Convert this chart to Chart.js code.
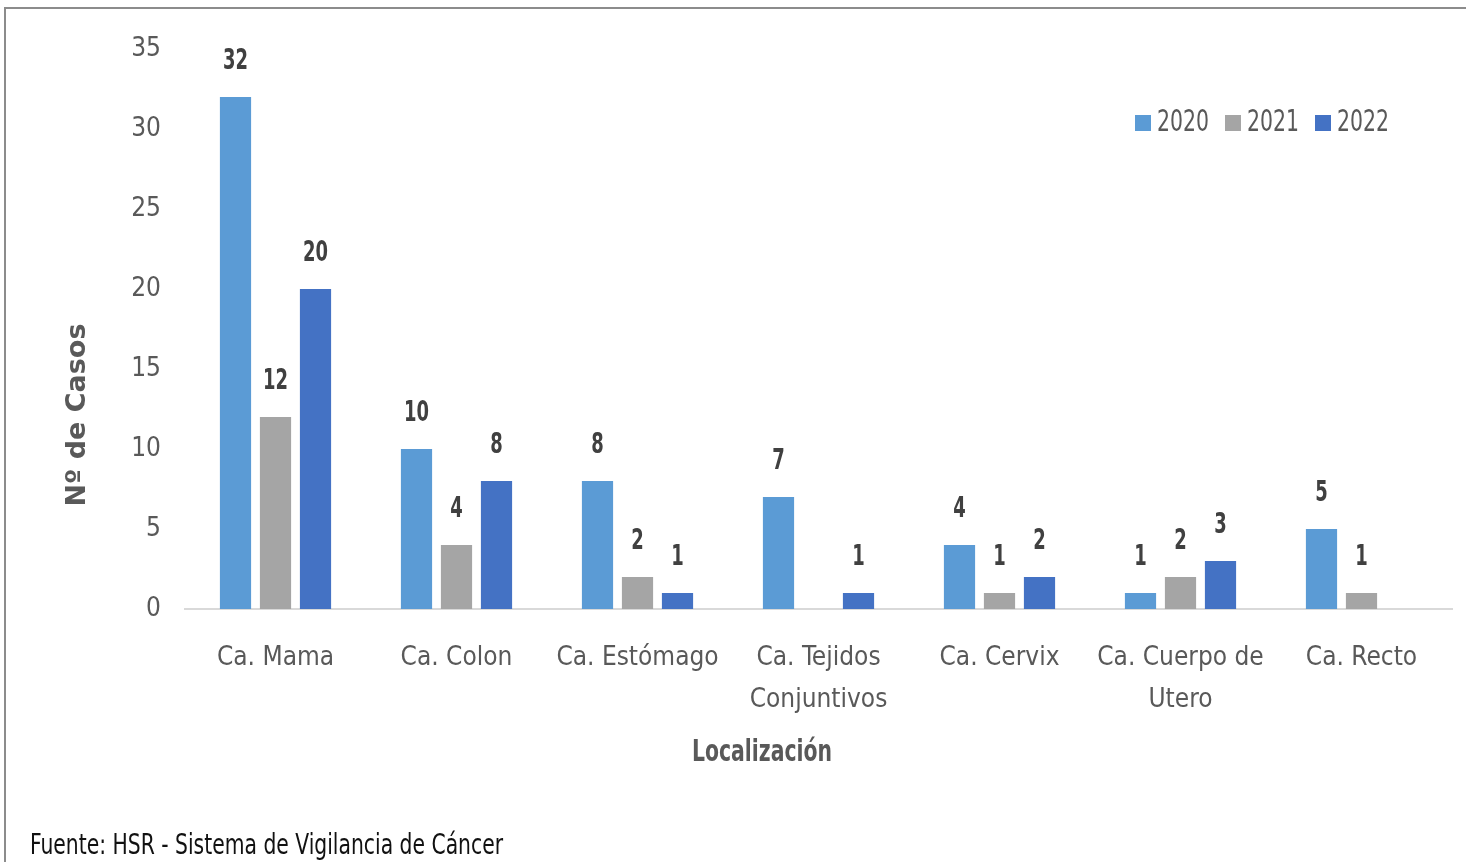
<!DOCTYPE html>
<html>
<head>
<meta charset="utf-8">
<script src="https://cdn.jsdelivr.net/npm/chart.js@4/dist/chart.umd.min.js"></script>
<style>
  html, body { margin: 0; padding: 0; background: #fff; }
  #wrap { width: 1466px; height: 862px; position: relative; }
</style>
</head>
<body>
<div id="wrap"><canvas id="myChart" width="1466" height="862"></canvas></div>
<script>
// Chart data
const categories = [
    'Ca. Mama',
    'Ca. Colon',
    'Ca. Estómago',
    ['Ca. Tejidos', 'Conjuntivos'],
    'Ca. Cervix',
    ['Ca. Cuerpo de', 'Utero'],
    'Ca. Recto'
];
const years = ['2020', '2021', '2022'];
const casos2020 = [32, 10, 8, 7, 4, 1, 5];
const casos2021 = [12, 4, 2, null, 1, 2, 1];
const casos2022 = [20, 8, 1, 1, 2, 3, null];
const yTicks = [0, 5, 10, 15, 20, 25, 30, 35];

const colors = ['#5B9BD5', '#A5A5A5', '#4472C4'];
const fuente = 'Fuente: HSR - Sistema de Vigilancia de Cáncer';

// use a narrow face when one is installed
function hasFont(name) {
    const c = document.createElement('canvas').getContext('2d');
    c.font = '40px monospace';
    const a = c.measureText('abcdefghijklmMW').width;
    c.font = `40px '${name}', monospace`;
    return c.measureText('abcdefghijklmMW').width !== a;
}
const hasNarrow = hasFont('Liberation Sans Narrow');
const narrow = hasNarrow
    ? "'Liberation Sans Narrow', sans-serif"
    : "'DejaVu Sans Condensed', sans-serif";
const tickSize = hasNarrow ? 29 : 26;

// Value labels, axis titles, legend, frame and source note
const extras = {
    id: 'extras',
    afterDatasetsDraw(chart) {
        const ctx = chart.ctx;
        const area = chart.chartArea;
        ctx.save();

        // bar labels
        ctx.font = 'bold 29px ' + narrow;
        ctx.fillStyle = '#404040';
        ctx.textAlign = 'center';
        ctx.textBaseline = 'middle';
        chart.data.datasets.forEach((ds, i) => {
            const meta = chart.getDatasetMeta(i);
            meta.data.forEach((bar, j) => {
                if (ds.data[j] == null) return;
                const s = String(ds.data[j]);
                ctx.fillText(s, bar.x, bar.y - 36, 12.5 * s.length);
            });
        });

        // y axis title
        ctx.save();
        ctx.translate(78, 415);
        ctx.rotate(-Math.PI / 2);
        ctx.font = "bold 27px 'DejaVu Sans', sans-serif";
        ctx.fillStyle = '#595959';
        ctx.fillText('Nº de Casos', 0, 0, 186);
        ctx.restore();

        // x axis title
        ctx.font = 'bold 31px ' + narrow;
        ctx.fillStyle = '#595959';
        ctx.fillText('Localización', 762, 753, 140);

        // legend
        ctx.font = '30px ' + narrow;
        ctx.textAlign = 'left';
        let x = area.right - 317;
        const y = 123;
        years.forEach((yr, i) => {
            ctx.fillStyle = colors[i];
            ctx.fillRect(x, y - 8, 16, 16);
            ctx.fillStyle = '#595959';
            ctx.fillText(yr, x + 22, y, 52);
            x += 90;
        });

        // frame (top and left edges)
        ctx.strokeStyle = '#8c8c8c';
        ctx.lineWidth = 2;
        ctx.beginPath();
        ctx.moveTo(5, 862);
        ctx.lineTo(5, 8);
        ctx.lineTo(1466, 8);
        ctx.stroke();

        // source note
        ctx.font = '28px ' + narrow;
        ctx.fillStyle = '#111';
        ctx.fillText(fuente, 30, 847, 473);

        ctx.restore();
    }
};

const ctx = document.getElementById('myChart').getContext('2d');
const chart = new Chart(ctx, {
    type: 'bar',
    data: {
        labels: categories,
        datasets: [
            { label: years[0], data: casos2020, backgroundColor: colors[0] },
            { label: years[1], data: casos2021, backgroundColor: colors[1] },
            { label: years[2], data: casos2022, backgroundColor: colors[2] }
        ]
    },
    options: {
        responsive: false,
        animation: false,
        layout: { padding: { left: 64, right: 14, top: 49, bottom: 92 } },
        datasets: {
            bar: { categoryPercentage: 0.663, barPercentage: 0.78 }
        },
        plugins: {
            legend: { display: false },
            tooltip: { enabled: false }
        },
        scales: {
            x: {
                grid: { display: false, drawTicks: false },
                border: { color: '#d9d9d9', width: 2 },
                ticks: {
                    color: '#595959',
                    font: { family: narrow, size: tickSize, lineHeight: 42 / tickSize },
                    padding: 28,
                    maxRotation: 0,
                    autoSkip: false
                },
                afterFit(scale) { scale.height = 161; }
            },
            y: {
                min: 0,
                max: 35,
                afterBuildTicks(scale) { scale.ticks = yTicks.map(v => ({ value: v })); },
                grid: { display: false, drawTicks: false },
                border: { display: false },
                ticks: {
                    color: '#595959',
                    font: { family: narrow, size: tickSize },
                    padding: 24
                },
                afterFit(scale) { scale.width = 121; }
            }
        }
    },
    plugins: [extras]
});
</script>
</body>
</html>
